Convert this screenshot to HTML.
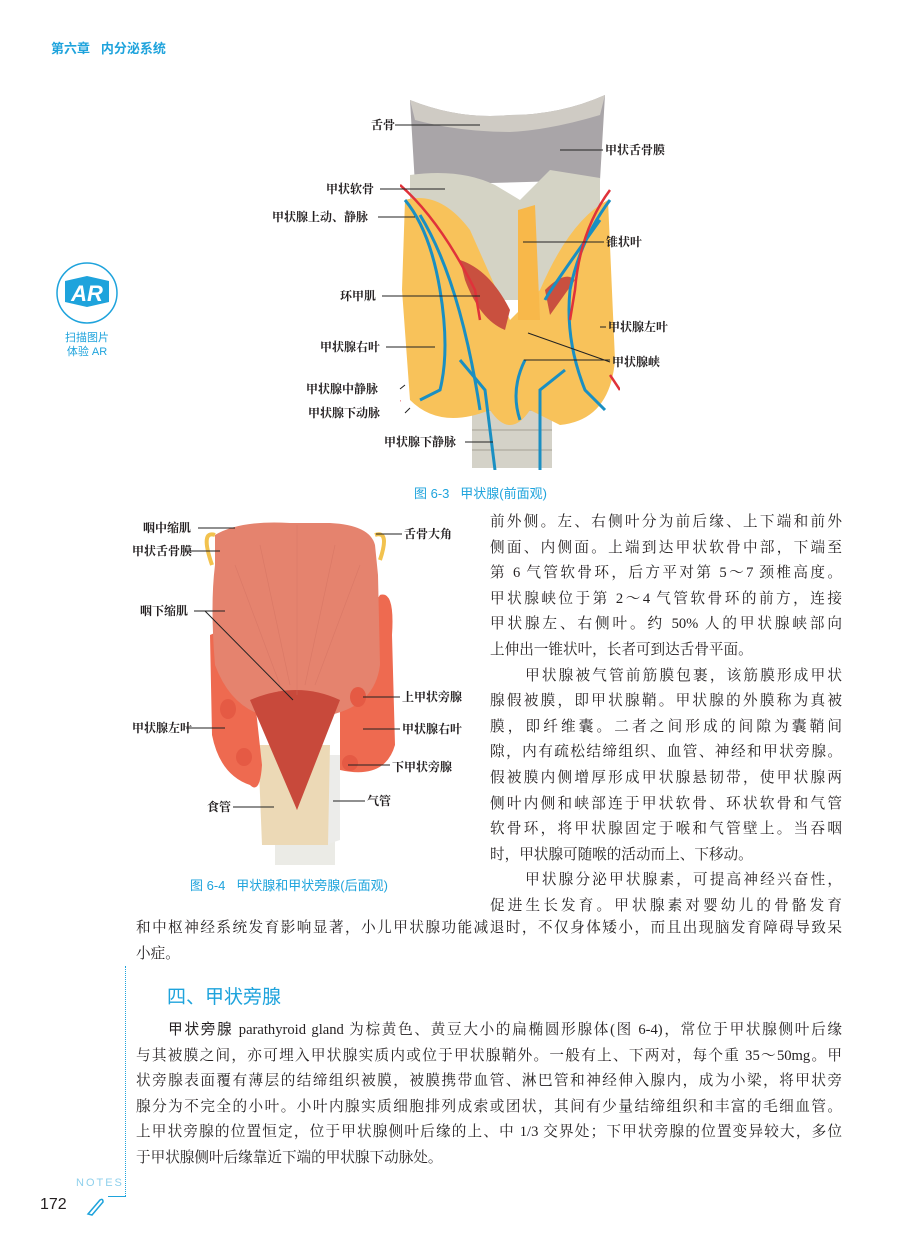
<!DOCTYPE html>
<html><head><meta charset="utf-8">
<style>
body{margin:0;background:#fff;}
#p{position:relative;width:906px;height:1250px;overflow:hidden;font-family:"Liberation Serif","Noto Serif CJK SC",serif;color:#231f20;}
.a{position:absolute;white-space:nowrap;}
.lb{position:absolute;white-space:nowrap;font-size:12px;font-weight:bold;font-family:"Liberation Serif","Noto Serif CJK SC",serif;line-height:14px;}
.t{position:absolute;font-size:14.6px;line-height:25.6px;text-align:justify;text-align-last:justify;}
.t div{white-space:nowrap;text-align-last:justify;height:25.6px;}
.last{text-align-last:left !important;}
.blue{color:#1ea3dc;font-family:"Liberation Sans","Noto Sans CJK SC",sans-serif;}
</style></head><body><div id="p">
<div class="a blue" style="left:51px;top:38px;font-size:13px;font-weight:bold;">第六章&nbsp;&nbsp;&nbsp;内分泌系统</div>
<svg class="a" style="left:55px;top:261px" width="64" height="64"><circle cx="32" cy="32" r="30" fill="none" stroke="#1ea3dc" stroke-width="1.5"/><path d="M10 20 L32 15 L54 20 L54 41 L32 46 L10 41Z" fill="#1ea3dc"/><text x="32" y="40" font-family="Liberation Sans" font-size="22" font-weight="bold" font-style="italic" fill="#fff" text-anchor="middle">AR</text></svg>
<div class="a blue" style="left:64px;top:331px;font-size:11px;line-height:14px;text-align:center;width:46px;">扫描图片<br>体验 AR</div>

<!-- Figure 6-3 -->
<svg class="a" style="left:400px;top:90px" width="220" height="380">
<rect x="72" y="300" width="80" height="78" fill="#d4d2c8"/>
<g stroke="#bcb9ae" stroke-width="2"><line x1="72" y1="320" x2="152" y2="320"/><line x1="72" y1="340" x2="152" y2="340"/><line x1="72" y1="360" x2="152" y2="360"/></g>
<path d="M10 10 Q60 30 110 25 Q160 25 205 5 L200 90 L15 95Z" fill="#a9a5a8"/>
<path d="M10 10 Q60 30 110 25 Q160 25 205 5 L200 25 Q150 40 110 42 Q60 42 15 30Z" fill="#cfcbc4"/>
<path d="M10 85 Q60 78 95 95 L120 110 L150 80 L200 88 L200 210 L10 210Z" fill="#d4d3c5"/>
<path d="M5 110 Q40 100 70 140 L110 230 L140 200 Q170 130 208 110 L215 270 Q210 330 160 335 L130 320 Q110 350 90 320 Q40 340 10 310 L2 200Z" fill="#f8c25a"/>
<path d="M60 170 Q90 180 110 220 L105 240 Q80 230 65 190Z" fill="#c9503f"/>
<path d="M145 200 Q165 180 175 190 L150 225Z" fill="#c9503f"/>
<path d="M118 120 L135 115 L140 230 L118 230Z" fill="#f8b84a"/>
<g fill="none" stroke="#1a8fc2" stroke-width="3"><path d="M5 110 Q30 140 40 200 Q50 260 40 300 L20 310"/><path d="M20 125 Q60 190 80 320"/><path d="M210 110 Q180 150 170 200 Q165 250 185 300 L205 320"/><path d="M200 130 Q150 200 145 210"/><path d="M95 380 L85 300 L60 270"/><path d="M140 380 L140 300 L165 280"/><path d="M120 330 Q110 300 125 270"/></g>
<g fill="none" stroke="#e0323a" stroke-width="2.5"><path d="M0 95 Q40 130 75 200 L80 230"/><path d="M210 100 Q180 140 175 200 L170 230"/><path d="M0 310 L-10 320"/><path d="M210 285 L220 300"/></g>
</svg>
<svg class="a" style="left:0;top:0" width="906" height="470" stroke="#222" stroke-width="1" fill="none">
<line x1="395" y1="125" x2="480" y2="125"/><line x1="560" y1="150" x2="603" y2="150"/>
<line x1="380" y1="189" x2="445" y2="189"/><line x1="378" y1="217" x2="415" y2="217"/>
<line x1="523" y1="242" x2="604" y2="242"/><line x1="382" y1="296" x2="480" y2="296"/>
<line x1="600" y1="327" x2="606" y2="327"/><line x1="386" y1="347" x2="435" y2="347"/>
<line x1="528" y1="333" x2="610" y2="362"/><line x1="524" y1="360" x2="610" y2="360"/>
<line x1="400" y1="389" x2="405" y2="385"/><line x1="405" y1="413" x2="410" y2="408"/>
<line x1="465" y1="442" x2="493" y2="442"/>
</svg>
<div class="lb" style="left:371px;top:118px">舌骨</div>
<div class="lb" style="left:605px;top:143px">甲状舌骨膜</div>
<div class="lb" style="left:326px;top:182px">甲状软骨</div>
<div class="lb" style="left:272px;top:210px">甲状腺上动、静脉</div>
<div class="lb" style="left:606px;top:235px">锥状叶</div>
<div class="lb" style="left:340px;top:289px">环甲肌</div>
<div class="lb" style="left:608px;top:320px">甲状腺左叶</div>
<div class="lb" style="left:320px;top:340px">甲状腺右叶</div>
<div class="lb" style="left:612px;top:355px">甲状腺峡</div>
<div class="lb" style="left:306px;top:382px">甲状腺中静脉</div>
<div class="lb" style="left:308px;top:406px">甲状腺下动脉</div>
<div class="lb" style="left:384px;top:435px">甲状腺下静脉</div>
<div class="a blue" style="left:414px;top:483px;font-size:13px;">图 6-3&nbsp;&nbsp;&nbsp;甲状腺(前面观)</div>

<!-- Figure 6-4 -->
<svg class="a" style="left:200px;top:505px" width="270" height="370">
<rect x="75" y="330" width="60" height="30" fill="#ebebe6"/>
<path d="M128 250 L140 250 L140 335 L125 340Z" fill="#ececea"/>
<path d="M58 240 L130 240 L128 340 L62 340Z" fill="#ecd9b6"/>
<path d="M10 130 Q30 120 50 150 L62 260 Q60 290 50 280 Q20 270 12 230Z" fill="#ee6a50"/>
<path d="M180 90 Q195 85 192 130 L195 240 Q185 275 140 265 L140 150Z" fill="#ee6a50"/>
<path d="M15 30 Q40 15 90 18 L130 18 Q170 20 175 40 L178 70 L180 160 Q175 200 130 210 L97 305 L62 210 Q30 200 15 160 Q10 100 15 60Z" fill="#e5836e"/>
<path d="M50 195 Q97 175 140 195 L97 305Z" fill="#c8493b"/>
<path d="M15 30 Q0 25 12 60" stroke="#f2c24e" stroke-width="4" fill="none"/>
<path d="M175 30 Q190 25 180 55" stroke="#f2c24e" stroke-width="4" fill="none"/>
<g fill="#e55a44"><ellipse cx="28" cy="204" rx="8" ry="10"/><ellipse cx="44" cy="252" rx="8" ry="9"/><ellipse cx="158" cy="192" rx="8" ry="10"/><ellipse cx="150" cy="258" rx="8" ry="8"/></g>
<g stroke="#d07060" stroke-width="0.7" opacity="0.5"><line x1="97" y1="20" x2="97" y2="190"/><line x1="60" y1="40" x2="90" y2="180"/><line x1="135" y1="40" x2="105" y2="180"/><line x1="35" y1="60" x2="80" y2="180"/><line x1="160" y1="60" x2="115" y2="180"/></g>
</svg>
<svg class="a" style="left:0;top:505px" width="470" height="370" stroke="#222" stroke-width="1" fill="none">
<line x1="198" y1="528" transform="translate(0,-505)" x2="235" y2="528"/>
<line x1="186" y1="551" transform="translate(0,-505)" x2="220" y2="551"/>
<line x1="376" y1="534" transform="translate(0,-505)" x2="402" y2="534"/>
<line x1="194" y1="611" transform="translate(0,-505)" x2="225" y2="611"/>
<line x1="205" y1="611" transform="translate(0,-505)" x2="293" y2="700"/>
<line x1="363" y1="697" transform="translate(0,-505)" x2="400" y2="697"/>
<line x1="186" y1="728" transform="translate(0,-505)" x2="225" y2="728"/>
<line x1="363" y1="729" transform="translate(0,-505)" x2="400" y2="729"/>
<line x1="348" y1="765" transform="translate(0,-505)" x2="390" y2="765"/>
<line x1="233" y1="807" transform="translate(0,-505)" x2="274" y2="807"/>
<line x1="333" y1="801" transform="translate(0,-505)" x2="365" y2="801"/>
</svg>
<div class="lb" style="left:143px;top:521px">咽中缩肌</div>
<div class="lb" style="left:404px;top:527px">舌骨大角</div>
<div class="lb" style="left:132px;top:544px">甲状舌骨膜</div>
<div class="lb" style="left:140px;top:604px">咽下缩肌</div>
<div class="lb" style="left:402px;top:690px">上甲状旁腺</div>
<div class="lb" style="left:132px;top:721px">甲状腺左叶</div>
<div class="lb" style="left:402px;top:722px">甲状腺右叶</div>
<div class="lb" style="left:392px;top:760px">下甲状旁腺</div>
<div class="lb" style="left:207px;top:800px">食管</div>
<div class="lb" style="left:367px;top:794px">气管</div>
<div class="a blue" style="left:190px;top:875px;font-size:13px;">图 6-4&nbsp;&nbsp;&nbsp;甲状腺和甲状旁腺(后面观)</div>

<div class="t" style="left:490px;top:510px;width:352px;">
<div>前外侧。左、右侧叶分为前后缘、上下端和前外</div>
<div>侧面、内侧面。上端到达甲状软骨中部，下端至</div>
<div>第 6 气管软骨环，后方平对第 5～7 颈椎高度。</div>
<div>甲状腺峡位于第 2～4 气管软骨环的前方，连接</div>
<div>甲状腺左、右侧叶。约 50% 人的甲状腺峡部向</div>
<div class="last">上伸出一锥状叶，长者可到达舌骨平面。</div>
<div>&nbsp;&nbsp;&nbsp;&nbsp;&nbsp;&nbsp;甲状腺被气管前筋膜包裹，该筋膜形成甲状</div>
<div>腺假被膜，即甲状腺鞘。甲状腺的外膜称为真被</div>
<div>膜，即纤维囊。二者之间形成的间隙为囊鞘间</div>
<div>隙，内有疏松结缔组织、血管、神经和甲状旁腺。</div>
<div>假被膜内侧增厚形成甲状腺悬韧带，使甲状腺两</div>
<div>侧叶内侧和峡部连于甲状软骨、环状软骨和气管</div>
<div>软骨环，将甲状腺固定于喉和气管壁上。当吞咽</div>
<div class="last">时，甲状腺可随喉的活动而上、下移动。</div>
<div>&nbsp;&nbsp;&nbsp;&nbsp;&nbsp;&nbsp;甲状腺分泌甲状腺素，可提高神经兴奋性，</div>
<div>促进生长发育。甲状腺素对婴幼儿的骨骼发育</div>
</div>
<div class="t" style="left:136px;top:916px;width:706px;">
<div>和中枢神经系统发育影响显著，小儿甲状腺功能减退时，不仅身体矮小，而且出现脑发育障碍导致呆</div>
<div class="last">小症。</div>
</div>
<div class="a" style="left:125px;top:966px;height:230px;border-left:1px dotted #1ea3dc;"></div>
<div class="a blue" style="left:167px;top:982px;font-size:19px;">四、甲状旁腺</div>
<div class="t" style="left:136px;top:1018px;width:706px;">
<div>&nbsp;&nbsp;&nbsp;&nbsp;&nbsp;&nbsp;<b style="font-family:'Liberation Sans','Noto Sans CJK SC',sans-serif;font-weight:normal">甲状旁腺</b> parathyroid gland 为棕黄色、黄豆大小的扁椭圆形腺体(图 6-4)，常位于甲状腺侧叶后缘</div>
<div>与其被膜之间，亦可埋入甲状腺实质内或位于甲状腺鞘外。一般有上、下两对，每个重 35～50mg。甲</div>
<div>状旁腺表面覆有薄层的结缔组织被膜，被膜携带血管、淋巴管和神经伸入腺内，成为小梁，将甲状旁</div>
<div>腺分为不完全的小叶。小叶内腺实质细胞排列成索或团状，其间有少量结缔组织和丰富的毛细血管。</div>
<div>上甲状旁腺的位置恒定，位于甲状腺侧叶后缘的上、中 1/3 交界处；下甲状旁腺的位置变异较大，多位</div>
<div class="last">于甲状腺侧叶后缘靠近下端的甲状腺下动脉处。</div>
</div>
<div class="a" style="left:76px;top:1177px;font-size:11px;letter-spacing:2px;color:#8fd0ec;font-family:'Liberation Sans',sans-serif;">NOTES</div>
<div class="a" style="left:108px;top:1196px;width:18px;border-top:1px solid #1ea3dc;"></div>
<div class="a" style="left:40px;top:1196px;font-size:16px;font-family:'Liberation Sans',sans-serif;">172</div>
<svg class="a" style="left:84px;top:1196px" width="22" height="22"><path d="M4 18 L16 4 Q19 2 19 6 L8 19 Z" fill="none" stroke="#1ea3dc" stroke-width="1.5"/></svg>
</div></body></html>
